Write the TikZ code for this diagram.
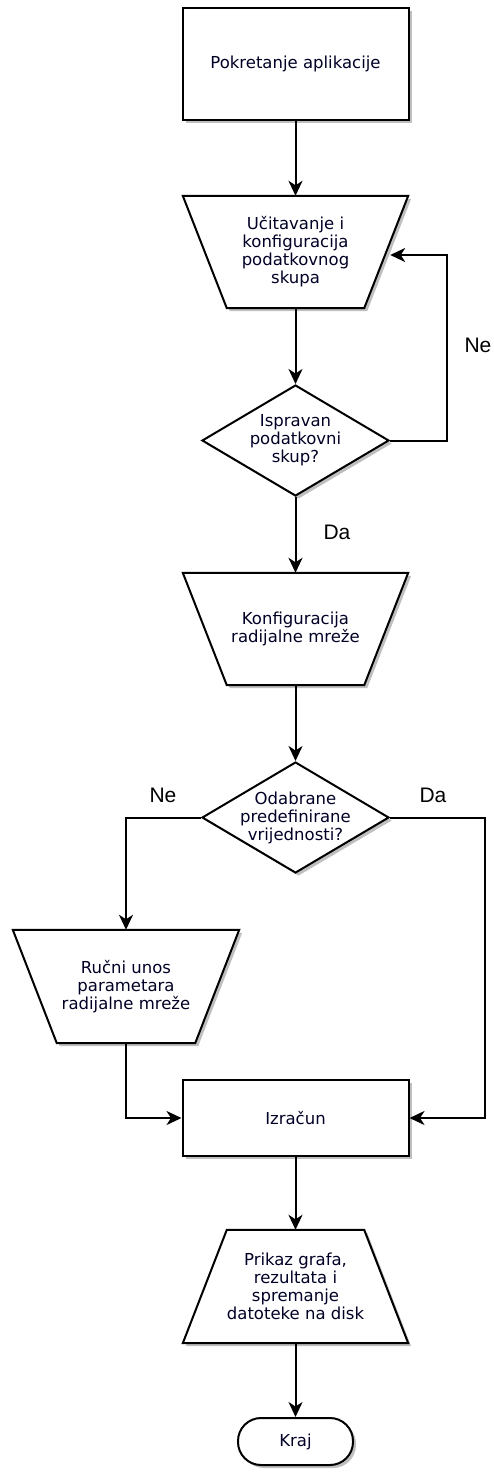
\documentclass[tikz,border=0pt]{standalone}
\usepackage{fontspec}
\setmainfont{DejaVu Sans}
\newfontfamily\labfont{Liberation Sans}
\usetikzlibrary{shapes.geometric,arrows.meta,shadows}
\begin{document}
\begin{tikzpicture}[x=1pt,y=-1pt,
  shd/.style={drop shadow={shadow xshift=3pt,shadow yshift=-3pt,fill=black,opacity=0.25}},
  outl/.style={draw,line width=2pt,fill=white,shd,line join=miter},
  box/.style={outl,rectangle,minimum width=226pt,inner sep=0pt},
  frame/.style={rectangle,draw=none,minimum width=225pt,minimum height=112pt,inner sep=0pt},
  decision/.style={outl,diamond,minimum width=187pt,minimum height=111pt,inner sep=2pt},
  term/.style={outl,rectangle,rounded corners=23pt,minimum width=115pt,minimum height=47pt,inner sep=0pt},
  txt/.style={align=center,inner sep=0pt,text=black!85!blue,font=\fontsize{16.5}{18}\selectfont},
  yn/.style={inner sep=0pt,font=\labfont\fontsize{21}{23}\selectfont},
  arr/.style={line width=2pt,-{Stealth[length=15pt,width=14pt,inset=4.5pt]}}]
\useasboundingbox (0,0) rectangle (494,1479);

\node[box,minimum height=112pt] (b1) at (295.5,64) {};
\node[txt] (b1t) at (b1) {Pokretanje aplikacije};

\node[frame] (t2) at (295.5,252) {};
\draw[outl] (t2.north west) -- (t2.north east) -- ([xshift=-44pt]t2.south east) -- ([xshift=44pt]t2.south west) -- cycle;
\coordinate (t2r) at ([xshift=-18pt,yshift=-3pt]t2.east);
\node[txt] (t2t) at (t2) {Učitavanje i\\konfiguracija\\podatkovnog\\skupa};

\node[decision] (d1) at (295.5,440.5) {\strut};
\node[txt] (d1t) at (d1) {Ispravan\\podatkovni\\skup?};

\node[frame] (t3) at (295.5,629) {};
\draw[outl] (t3.north west) -- (t3.north east) -- ([xshift=-44pt]t3.south east) -- ([xshift=44pt]t3.south west) -- cycle;
\node[txt] (t3t) at (t3) {Konfiguracija\\radijalne mreže};

\node[decision] (d2) at (295.5,817.5) {\strut};
\node[txt] (d2t) at (d2) {Odabrane\\predefinirane\\vrijednosti?};

\node[frame,minimum width=226pt,minimum height=113pt] (t4) at (126,986.5) {};
\draw[outl] (t4.north west) -- (t4.north east) -- ([xshift=-44pt]t4.south east) -- ([xshift=44pt]t4.south west) -- cycle;
\node[txt] (t4t) at (t4) {Ručni unos\\parametara\\radijalne mreže};

\node[box,minimum height=76pt] (iz) at (295.5,1118) {};
\node[txt] (izt) at (iz) {Izračun};

\node[frame,minimum height=113pt] (t5) at (295.5,1286.5) {};
\draw[outl] ([xshift=44pt]t5.north west) -- ([xshift=-44pt]t5.north east) -- (t5.south east) -- (t5.south west) -- cycle;
\node[txt] (t5t) at (t5) {Prikaz grafa,\\rezultata i\\spremanje\\datoteke na disk};

\node[term] (kr) at (295.5,1441.5) {};
\node[txt] (krt) at (kr) {Kraj};

\draw[arr] (b1.south) -- (t2.north);
\draw[arr] (t2.south) -- (d1.north);
\draw[arr] (d1.east) -- ++(57,0) |- (t2r);
\draw[arr] (d1.south) -- (t3.north);
\draw[arr] (t3.south) -- (d2.north);
\draw[arr] (d2.west) -| (t4.north);
\draw[arr] (d2.east) -- ++(95,0) |- (iz.east);
\draw[arr] (t4.south) |- (iz.west);
\draw[arr] (iz.south) -- (t5.north);
\draw[arr] (t5.south) -- (kr.north);

\node[yn] (ne1) at (478,345) {Ne};
\node[yn] (da1) at (337,532) {Da};
\node[yn] (ne2) at (163,795) {Ne};
\node[yn] (da2) at (433,795) {Da};
\end{tikzpicture}
\end{document}
